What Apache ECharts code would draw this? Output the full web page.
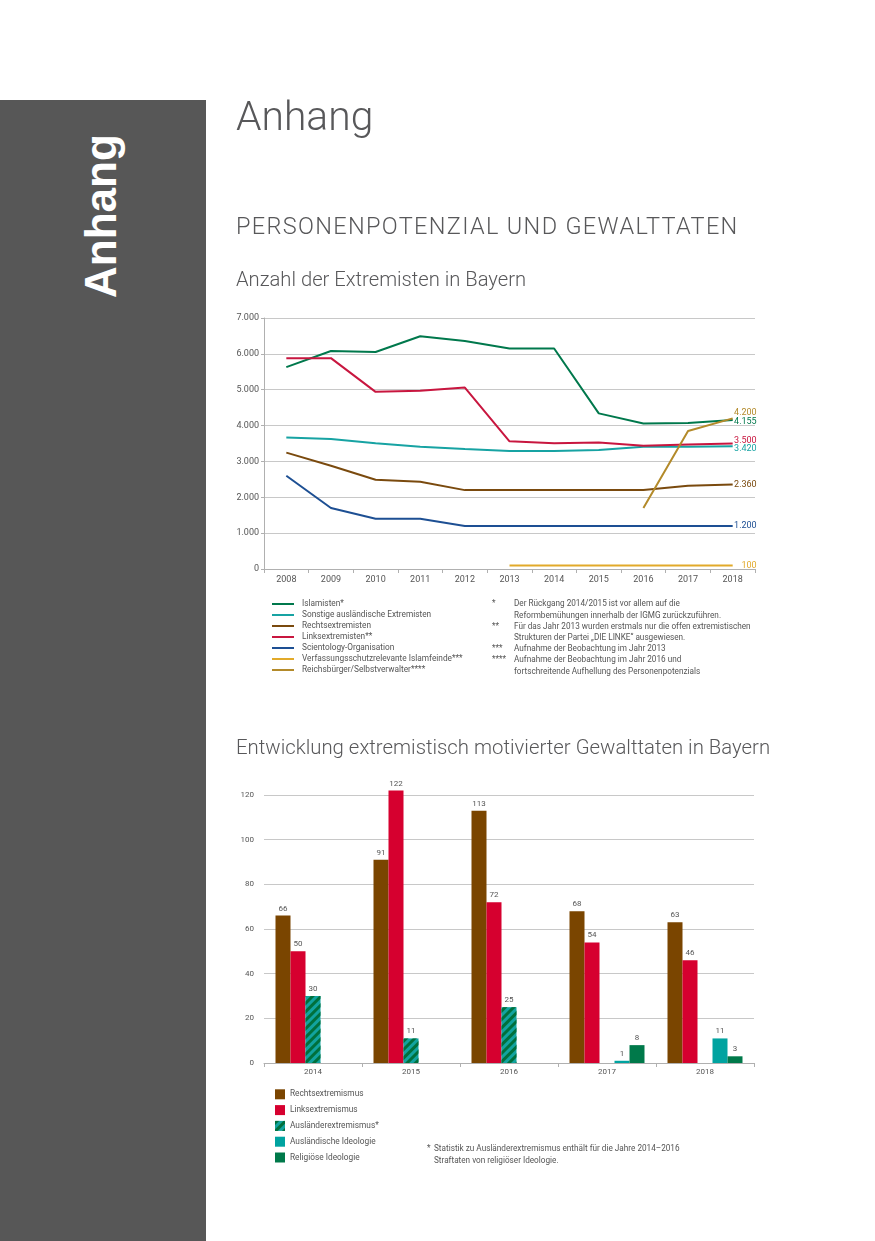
<!DOCTYPE html>
<html>
<head>
<meta charset="utf-8">
<script src="https://cdn.jsdelivr.net/npm/echarts@6/dist/echarts.min.js"></script>
<style>
  html, body { margin:0; padding:0; width:875px; height:1241px; background:#fff; overflow:hidden; }
  #sidebar { position:absolute; left:0; top:100px; width:206px; height:1141px; background:#575757; }
  #side-text { position:absolute; left:79px; top:298px; transform-origin:0 0; transform:rotate(-90deg);
    font:bold 44px "Liberation Sans", Arial, sans-serif; color:#fff; line-height:1; white-space:nowrap; }
  #chart { position:absolute; left:0; top:0; width:875px; height:1241px; z-index:1; }
  .t { position:absolute; z-index:2; white-space:nowrap; color:#58585a; font-family:Roboto, sans-serif; line-height:1; }
  .fn { position:absolute; z-index:2; white-space:nowrap; color:#555; font:8.2px Roboto, sans-serif; line-height:11.2px; }
</style>
</head>
<body>
<div id="sidebar"></div>
<div id="side-text">Anhang</div>
<div class="t" style="left:236px; top:96px; font-size:40.8px; font-weight:300;">Anhang</div>
<div class="t" style="left:236px; top:215px; font-size:23.5px; font-weight:300; letter-spacing:1.33px;">PERSONENPOTENZIAL UND GEWALTTATEN</div>
<div class="t" style="left:236px; top:269px; font-size:20.2px; font-weight:300;">Anzahl der Extremisten in Bayern</div>
<div class="t" style="left:236px; top:737px; font-size:20.35px; font-weight:300;">Entwicklung extremistisch motivierter Gewalttaten in Bayern</div>

<div class="fn" style="left:492px; top:598.4px;">*</div>
<div class="fn" style="left:514px; top:598.4px;">Der Rückgang 2014/2015 ist vor allem auf die<br>Reformbemühungen innerhalb der IGMG zurückzuführen.</div>
<div class="fn" style="left:492px; top:620.8px;">**</div>
<div class="fn" style="left:514px; top:620.8px;">Für das Jahr 2013 wurden erstmals nur die offen extremistischen<br>Strukturen der Partei „DIE LINKE“ ausgewiesen.</div>
<div class="fn" style="left:492px; top:643.2px;">***</div>
<div class="fn" style="left:514px; top:643.2px;">Aufnahme der Beobachtung im Jahr 2013</div>
<div class="fn" style="left:492px; top:654.4px;">****</div>
<div class="fn" style="left:514px; top:654.4px;">Aufnahme der Beobachtung im Jahr 2016 und<br>fortschreitende Aufhellung des Personenpotenzials</div>

<div class="fn" style="left:427px; top:1142px; line-height:12px;">*</div>
<div class="fn" style="left:434px; top:1142px; line-height:12px;">Statistik zu Ausländerextremismus enthält für die Jahre 2014–2016<br>Straftaten von religiöser Ideologie.</div>

<div id="chart"></div>
<script>
// ---- Data: Anzahl der Extremisten in Bayern ----
const years = ['2008','2009','2010','2011','2012','2013','2014','2015','2016','2017','2018'];
const islamisten    = [5630, 6080, 6050, 6490, 6360, 6150, 6150, 4340, 4060, 4070, 4155];
const sonstige      = [3670, 3625, 3505, 3410, 3345, 3290, 3290, 3320, 3410, 3410, 3420];
const rechts        = [3245, 2880, 2490, 2435, 2200, 2200, 2200, 2200, 2200, 2320, 2360];
const links         = [5880, 5880, 4940, 4970, 5060, 3560, 3510, 3530, 3440, 3470, 3500];
const scientology   = [2600, 1700, 1400, 1400, 1200, 1200, 1200, 1200, 1200, 1200, 1200];
const islamfeinde   = [null, null, null, null, null, 100, 100, 100, 100, 100, 100];
const reichsbuerger = [null, null, null, null, null, null, null, null, 1700, 3850, 4200];
const lineNames = ['Islamisten*','Sonstige ausländische Extremisten','Rechtsextremisten','Linksextremisten**',
  'Scientology-Organisation','Verfassungsschutzrelevante Islamfeinde***','Reichsbürger/Selbstverwalter****'];
const lineTicks = [0, 1000, 2000, 3000, 4000, 5000, 6000, 7000];

// ---- Data: Gewalttaten ----
const barYears = ['2014','2015','2016','2017','2018'];
const rechtsG   = [66, 91, 113, 68, 63];
const linksG    = [50, 122, 72, 54, 46];
const auslExtrG = [30, 11, 25, null, null];
const auslIdeoG = [null, null, null, 1, 11];
const religG    = [null, null, null, 8, 3];
const barNames = ['Rechtsextremismus','Linksextremismus','Ausländerextremismus*','Ausländische Ideologie','Religiöse Ideologie'];

const fmt = v => String(v).replace(/\B(?=(\d{3})+(?!\d))/g, '.');
const FONT = 'Roboto';
const gridGray = '#c8c8c8', axisGray = '#b0b0b0', txt = '#555';

// vAlign/lh control the small vertical shift of the end labels so that neighbours don't collide
function lineSeries(name, data, color, vAlign, lh) {
  return {
    name, type:'line', data, xAxisIndex:0, yAxisIndex:0,
    symbol:'none', showSymbol:false, connectNulls:false,
    lineStyle:{color, width:2}, itemStyle:{color},
    endLabel:{show:true, formatter: p => fmt(p.value), color, fontSize:9, fontFamily:FONT,
      align:'right', distance:24, verticalAlign:vAlign, lineHeight:lh}
  };
}
function barSeries(name, data, color, extra) {
  return Object.assign({
    name, type:'bar', data, xAxisIndex:1, yAxisIndex:1, barWidth:15, barGap:'0%', clip:false,
    itemStyle:{color},
    label:{show:true, position:'top', distance:3, fontSize:8, color:txt, fontFamily:FONT}
  }, extra || {});
}

const chart = echarts.init(document.getElementById('chart'), null, {renderer:'canvas'});
chart.setOption({
  animation:false,
  textStyle:{fontFamily:FONT},
  grid:[
    {left:264, top:318, width:491, height:251},
    {left:264, top:795, width:490, height:268}
  ],
  xAxis:[
    {gridIndex:0, type:'category', data:years, boundaryGap:true,
      axisLine:{lineStyle:{color:axisGray}}, axisTick:{show:true, length:4, lineStyle:{color:axisGray}},
      axisLabel:{color:txt, fontSize:9, margin:6}},
    {gridIndex:1, type:'category', data:barYears, boundaryGap:true,
      axisLine:{lineStyle:{color:axisGray}}, axisTick:{show:true, length:4, lineStyle:{color:axisGray}},
      axisLabel:{color:txt, fontSize:8, margin:5}}
  ],
  yAxis:[
    {gridIndex:0, type:'value', min:lineTicks[0], max:lineTicks[lineTicks.length-1], interval:1000,
      axisLine:{show:true, lineStyle:{color:axisGray}}, axisTick:{show:true, length:3, lineStyle:{color:axisGray}},
      splitLine:{lineStyle:{color:gridGray}},
      axisLabel:{color:txt, fontSize:9, margin:5, formatter:fmt}},
    {gridIndex:1, type:'value', min:0, max:120, interval:20,
      axisLine:{show:false}, axisTick:{show:false},
      splitLine:{lineStyle:{color:gridGray}},
      axisLabel:{color:txt, fontSize:8, margin:10}}
  ],
  legend:[
    {data:lineNames, orient:'vertical', left:272, top:598.5, padding:0, itemWidth:22, itemHeight:2,
      icon:'rect', itemGap:0, selectedMode:false,
      textStyle:{fontSize:8.3, lineHeight:11, color:txt, padding:[0,0,0,3]}},
    {data:barNames, orient:'vertical', left:275, top:1089.3, padding:0, itemWidth:10, itemHeight:10,
      icon:'rect', itemGap:5.8, selectedMode:false,
      textStyle:{fontSize:8.3, lineHeight:10, color:txt}}
  ],
  series:[
    lineSeries(lineNames[0], islamisten, '#00784c', 'top', 3),
    lineSeries(lineNames[1], sonstige, '#17a3a3', 'top', 4),
    lineSeries(lineNames[2], rechts, '#7a4a0e', 'middle', 10),
    lineSeries(lineNames[3], links, '#c8163f', 'bottom', 5),
    lineSeries(lineNames[4], scientology, '#1d4f93', 'middle', 10),
    lineSeries(lineNames[5], islamfeinde, '#e2aa2a', 'middle', 10),
    lineSeries(lineNames[6], reichsbuerger, '#b38a2a', 'bottom', 11),
    barSeries(barNames[0], rechtsG, '#7a4500'),
    barSeries(barNames[1], linksG, '#d6002f'),
    barSeries(barNames[2], auslExtrG, '#12a39f', {itemStyle:{color:'#12a39f',
      decal:{symbol:'rect', symbolSize:1, color:'#00703c', dashArrayX:[1,0], dashArrayY:[3,3], rotation:-Math.PI/4}}}),
    barSeries(barNames[3], auslIdeoG, '#00a3a0'),
    barSeries(barNames[4], religG, '#00794a')
  ]
});
</script>
</body>
</html>
